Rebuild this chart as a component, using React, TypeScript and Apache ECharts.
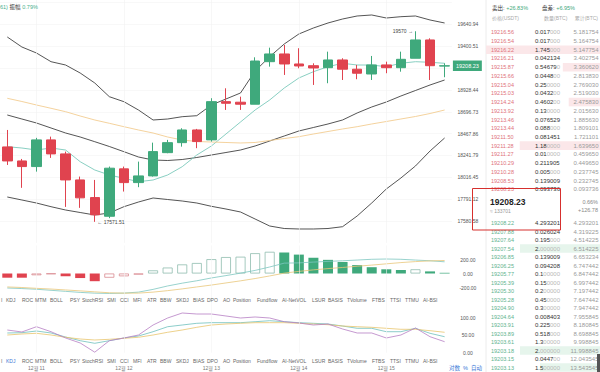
import React, { useEffect, useRef } from "react";
import * as echarts from "echarts";

// ---------- data ----------
const categories = [
  "12-10 16:00", "12-10 20:00",
  "12-11 00:00", "12-11 04:00", "12-11 08:00", "12-11 12:00", "12-11 16:00", "12-11 20:00",
  "12-12 00:00", "12-12 04:00", "12-12 08:00", "12-12 12:00", "12-12 16:00", "12-12 20:00",
  "12-13 00:00", "12-13 04:00", "12-13 08:00", "12-13 12:00", "12-13 16:00", "12-13 20:00",
  "12-14 00:00", "12-14 04:00", "12-14 08:00", "12-14 12:00", "12-14 16:00", "12-14 20:00",
  "12-15 00:00", "12-15 04:00", "12-15 08:00", "12-15 12:00", "12-15 16:00",
];
const opens = [18357, 18210, 18151, 18431, 18284, 18011, 17826, 17630, 18127, 17983, 18053, 18297, 18402, 18535, 18431, 18832, 18826, 18805, 19251, 19332, 19227, 19209, 19188, 19269, 19172, 19122, 19217, 19188, 19287, 19479, 19205];
const closes = [18210, 18151, 18431, 18284, 18011, 17823, 17645, 18134, 17983, 18053, 18308, 18402, 18535, 18413, 18832, 18815, 18805, 19258, 19332, 19227, 19206, 19185, 19269, 19172, 19130, 19217, 19188, 19276, 19479, 19209, 19208.23];
const lows = [18168, 17928, 18098, 18242, 17728, 17718, 17571.51, 17610, 17889, 17935, 18046, 18291, 18360, 18344, 18413, 18745, 18745, 18805, 19199, 19112, 19182, 19007, 19025, 19059, 19067, 19059, 19130, 19146, 19287, 19059, 19088];
const highs = [18535, 18231, 18452, 18465, 18308, 18046, 18011, 18151, 18151, 18203, 18402, 18431, 18553, 18546, 18868, 18972, 18884, 19297, 19398, 19426, 19392, 19234, 19356, 19287, 19217, 19311, 19251, 19356, 19570, 19496, 19234];

const bollUpper = [19509.9, 19405.0, 19342.1, 19250.9, 19216.2, 19132.3, 19027.5, 18883.8, 18831.4, 18744.3, 18639.5, 18649.9, 18674.1, 18684.6, 18796.8, 18859.7, 18922.6, 19153.3, 19303.3, 19436.5, 19541.3, 19604.3, 19656.7, 19698.6, 19730.1, 19740.6, 19709.1, 19722.8, 19730.1, 19688.2, 19656.7];
const bollMid = [18691.9, 18649.9, 18608.0, 18555.6, 18503.1, 18461.2, 18411.9, 18361.6, 18307.0, 18251.4, 18220.0, 18214.7, 18225.2, 18246.2, 18272.4, 18298.6, 18324.8, 18366.8, 18419.2, 18471.7, 18524.1, 18560.8, 18597.5, 18639.5, 18712.9, 18775.8, 18828.2, 18891.1, 18948.8, 19006.5, 19058.9];
const bollLower = [17832.0, 17800.5, 17769.0, 17730.2, 17695.6, 17669.4, 17643.2, 17664.2, 17730.2, 17779.5, 17821.5, 17805.7, 17790.0, 17769.0, 17734.4, 17706.1, 17674.7, 17601.2, 17527.8, 17501.6, 17496.4, 17496.4, 17501.6, 17520.5, 17632.7, 17769.0, 17915.9, 18031.2, 18157.1, 18314.4, 18450.7];
const maShort = [18359.5, 18345.8, 18324.8, 18345.8, 18324.8, 18202.2, 18115.1, 18062.7, 18028.1, 17992.4, 18010.2, 18062.7, 18149.7, 18272.4, 18366.8, 18492.6, 18618.5, 18744.3, 18849.2, 18975.0, 19079.9, 19146.0, 19198.4, 19234.1, 19216.2, 19216.2, 19198.4, 19234.1, 19250.9, 19244.6, 19234.1];
const maLong = [18867.0, 18833.5, 18796.8, 18762.2, 18726.5, 18681.4, 18639.5, 18604.9, 18569.2, 18534.6, 18503.1, 18461.2, 18429.7, 18414.0, 18408.7, 18403.5, 18398.3, 18403.5, 18424.5, 18445.4, 18464.3, 18492.6, 18518.9, 18545.1, 18569.2, 18597.5, 18623.7, 18649.9, 18676.2, 18707.6, 18744.3];

const priceTicks = ["17580.58", "17791.12", "18016.45", "18241.79", "18467.86", "18696.73", "18928.44", "", "19400.51", "19640.94"];

const macdHist = [-60, -60, -25, -8, -40, -65, -110, -60, -40, -15, 45, 85, 130, 150, 205, 235, 240, 290, 310, 300, 270, 225, 195, 165, 120, 90, 60, 50, 60, 30, 10];
const macdDif = [-207, -215, -225, -240, -255, -270, -281, -285, -280, -266, -227, -178, -138, -104, -64, -30, 5, 44, 93, 148, 152, 163, 173, 182, 192, 203, 207, 203, 192, 182, 167];
const macdDea = [-192, -200, -212, -222, -235, -248, -262, -275, -281, -280, -266, -245, -220, -192, -165, -135, -105, -72, -35, 5, 30, 52, 70, 86, 104, 120, 138, 156, 170, 180, 186];

const kdjK = [56.8, 57.6, 62.5, 56.8, 45.2, 34.6, 27.1, 34.6, 42.4, 48.1, 60.5, 74.9, 79.8, 84.7, 86.5, 86.5, 86.5, 89.3, 92.2, 89.3, 86.5, 84.7, 82.7, 76.9, 70.3, 70.3, 60.5, 60.5, 70.3, 55.9, 46.1];
const kdjD = [51.0, 53.9, 55.9, 51.0, 44.4, 39.5, 36.6, 38.6, 41.5, 44.4, 51.0, 58.8, 65.4, 73.2, 79.8, 82.7, 84.7, 86.5, 86.5, 86.5, 84.7, 82.7, 80.7, 76.9, 74.9, 73.2, 70.3, 67.4, 67.4, 63.4, 58.8];
const kdjJ = [65.4, 59.7, 74.9, 60.5, 42.4, 28.0, 1.5, 34.6, 42.4, 51.0, 79.8, 100.0, 114.4, 111.5, 111.5, 105.8, 100.0, 102.9, 100.0, 89.3, 85.6, 79.8, 82.7, 68.3, 56.8, 56.8, 42.4, 51.0, 71.2, 46.1, 31.7];

const tabNames = ["I", "KDJ", "ROC", "MTM", "BOLL", "PSY", "StochRSI", "SMI", "CCI", "MFI", "ATR", "BBW", "SKDJ", "BIAS", "DPO", "AO", "Position", "Fundflow", "AI-NetVOL", "LSUR", "BASIS", "TVolume", "FTBS", "TTSI", "TTMU", "AI-BSI"];

const askPrices = ["19216.56", "19216.54", "19216.22", "19216.21", "19215.87", "19215.66", "19215.04", "19215.03", "19214.24", "19213.92", "19213.46", "19213.44", "19211.50", "19211.28", "19211.27", "19210.29", "19210.28", "19208.53", "19208.23"];
const askQty = ["0.017000", "0.017000", "1.745000", "0.042134", "0.546790", "0.044800", "0.250000", "0.043200", "0.460200", "0.130000", "0.076529", "0.088000", "0.081451", "1.180000", "0.010000", "0.211905", "0.005000", "0.139009", "0.093736"];
const askCum = ["5.181754", "5.164754", "5.147754", "3.402754", "3.360620", "2.813830", "2.769030", "2.519030", "2.475830", "2.015630", "1.885630", "1.809101", "1.721101", "1.639650", "0.459650", "0.449650", "0.237745", "0.232745", "0.093736"];
const bidPrices = ["19208.22", "19207.88", "19207.64", "19207.54", "19206.85", "19206.25", "19205.77", "19205.39", "19205.30", "19205.28", "19204.90", "19204.64", "19203.91", "19203.89", "19203.61", "19203.18", "19203.15", "19203.13"];
const bidQty = ["4.293201", "0.026024", "0.195000", "2.000000", "0.139009", "0.094208", "0.100000", "0.150000", "0.200000", "0.450000", "0.300000", "0.008403", "0.225000", "0.518000", "1.300000", "2.000000", "0.044700", "1.500000"];
const bidCum = ["4.293201", "4.319225", "4.514225", "6.514225", "6.653234", "6.747442", "6.847442", "6.997442", "7.197442", "7.647442", "7.947442", "7.955845", "8.180845", "8.698845", "9.998845", "11.998845", "12.043545", "13.543545"];
const askBarRows = [2, 4, 8, 13];
const bidBarRows = [3, 15, 17];

// ---------- style ----------
const FONT = "'Liberation Sans', 'Noto Sans CJK SC', sans-serif";
const GREEN = "#3fa97c";
const RED = "#e0434f";
const GRID_LEFT = -6.3;
const GRID_W = 458.2;

const App = () => {
  const ref = useRef<HTMLDivElement>(null);
  useEffect(() => {
    document.body.style.margin = "0";
    const chart = echarts.init(ref.current!, null, { renderer: "svg" });

    const dayIdx = categories.map((c, i) => (c.endsWith("00:00") ? i : -1)).filter((i) => i >= 0);
    const vLines = (color: string) => ({
      silent: true,
      symbol: ["none", "none"],
      label: { show: false },
      lineStyle: { color, width: 0.6, type: "solid" },
      data: dayIdx.map((i) => ({ xAxis: i })),
    });

    const candleData = opens.map((o, i) => [o, closes[i], lows[i], highs[i]]);
    const histData = macdHist.map((v, i) => {
      const prev = i > 0 ? macdHist[i - 1] : v;
      const c = v >= 0 ? GREEN : RED;
      const hollowBorder = v >= 0 ? "#8fbcae" : "#d98a90";
      return {
        value: v,
        itemStyle: v > prev ? { color: "#ffffff", borderColor: hollowBorder, borderWidth: 0.8 } : { color: c },
      };
    });

    const line = (data: number[], color: string, idx: number, width = 0.8, extra: any = {}) => ({
      type: "line",
      data,
      xAxisIndex: idx,
      yAxisIndex: idx,
      symbol: "none",
      silent: true,
      lineStyle: { color, width },
      z: 3,
      ...extra,
    });

    const xBase = (gridIndex: number) => ({
      type: "category",
      gridIndex,
      data: categories,
      boundaryGap: true,
      axisLine: { show: false },
      axisTick: { show: false },
      axisLabel: { show: false },
      splitLine: { show: false },
    });

    const yLabel = { fontSize: 5, color: "#555", align: "center", margin: 16 };

    // ---- graphic: order book etc ----
    const g: any[] = [];
    const txt = (x: number, y: number, text: string, style: any = {}, z = 50) =>
      g.push({
        type: "text",
        x,
        y,
        z,
        silent: true,
        style: { text, fontSize: 6, fontFamily: FONT, fill: "#333", verticalAlign: "middle", align: "left", ...style },
      });
    const qtyRich = (q: string) => {
      const m = q.match(/^(.*?)(0*)$/)!;
      return `{d|${m[1]}}{l|${m[2]}}`;
    };
    const qtyStyle = { rich: { d: { fill: "#333", fontSize: 6, fontFamily: FONT }, l: { fill: "#b8b8b8", fontSize: 6, fontFamily: FONT } } };

    g.push({ type: "rect", z: 1, silent: true, shape: { x: 486, y: 0, width: 114, height: 372 }, style: { fill: "#ffffff" } });
    g.push({ type: "line", z: 2, silent: true, shape: { x1: 486, y1: 0, x2: 486, y2: 372 }, style: { stroke: "#ececec", lineWidth: 1 } });

    askBarRows.forEach((r) => {
      const w = Math.min(114, parseFloat(askQty[r]) * 68);
      g.push({ type: "rect", z: 3, silent: true, shape: { x: 600 - w, y: 32.3 + r * 8.72 - 4.3, width: w, height: 8.6 }, style: { fill: "#fbe7e9" } });
    });
    bidBarRows.forEach((r) => {
      const w = Math.min(114, parseFloat(bidQty[r]) * 40);
      g.push({ type: "rect", z: 3, silent: true, shape: { x: 600 - w, y: 223 + r * 8.5 - 4.2, width: w, height: 8.4 }, style: { fill: "#e6f5ec" } });
    });

    txt(492, 8, "{k|卖出:} {g|+26.83%}", { rich: { k: { fill: "#333", fontSize: 5.5, fontFamily: FONT }, g: { fill: GREEN, fontSize: 5.5, fontFamily: FONT } } });
    txt(542, 8, "{k|盘差:} {g|+6.95%}", { rich: { k: { fill: "#333", fontSize: 5.5, fontFamily: FONT }, g: { fill: GREEN, fontSize: 5.5, fontFamily: FONT } } });
    txt(492, 17.5, "价格(USDT)", { fill: "#aaaaaa", fontSize: 5 });
    txt(544, 17.5, "数量(BTC)", { fill: "#aaaaaa", fontSize: 5 });
    txt(598, 17.5, "累计(BTC)", { fill: "#aaaaaa", fontSize: 5, align: "right" });

    askPrices.forEach((p, i) => {
      const y = 32.3 + i * 8.72;
      txt(491, y, p, { fill: "#e0727b", fontSize: 5.5 });
      txt(535, y, qtyRich(askQty[i]), qtyStyle);
      txt(598.5, y, askCum[i], { fill: "#9a9a9a", fontSize: 6, align: "right" });
    });
    // mid section
    g.push({ type: "rect", z: 40, silent: true, shape: { x: 487, y: 193.5, width: 113, height: 26 }, style: { fill: "#ffffff" } });
    txt(490, 201.5, String(closes[closes.length - 1].toFixed(2)), { fontSize: 8.5, fontWeight: "bold", fill: "#1e1e1e" }, 60);
    txt(490, 210.5, "≈ 133701", { fontSize: 5, fill: "#999999" }, 60);
    txt(598, 201.5, "0.66%", { fontSize: 5.5, fill: "#888888", align: "right" }, 60);
    txt(598, 210, "+126.78", { fontSize: 5.5, fill: "#888888", align: "right" }, 60);

    bidPrices.forEach((p, i) => {
      const y = 223 + i * 8.5;
      txt(491, y, p, { fill: "#5eb38e", fontSize: 5.5 });
      txt(535, y, qtyRich(bidQty[i]), qtyStyle);
      txt(598.5, y, bidCum[i], { fill: "#9a9a9a", fontSize: 6, align: "right" });
    });

    // red annotation box
    g.push({ type: "rect", z: 90, silent: true, shape: { x: 472.5, y: 188.5, width: 88, height: 41.5 }, style: { fill: "none", stroke: "#d6302e", lineWidth: 1 } });
    // scrollbar
    g.push({ type: "rect", z: 90, silent: true, shape: { x: 597, y: 354, width: 3, height: 18 }, style: { fill: "#555555" } });

    // top-left info
    txt(0, 7, "{g|61)} {k|振幅} {g|0.79%}", { rich: { k: { fill: "#333", fontSize: 5.5, fontFamily: FONT }, g: { fill: "#49b08c", fontSize: 5.5, fontFamily: FONT } } });

    // indicator tab rows
    const tabX = [1, 6, 22, 35, 50, 70, 82, 107, 120, 133, 147, 160, 176, 193, 207, 223, 233, 257, 282, 312, 328, 347, 372, 390, 405, 423];
    [300, 361].forEach((ty, row) => {
      tabNames.forEach((t, i) => {
        const active = row === 1 && t === "KDJ";
        txt(tabX[i], ty, t, { fontSize: 5, fill: active ? "#3a78d6" : "#666666" }, 20);
      });
    });
    txt(449, 367.5, "对数  %  自动", { fontSize: 5.5, fill: "#3a78d6" }, 20);

    const option: any = {
      animation: false,
      backgroundColor: "#ffffff",
      textStyle: { fontFamily: FONT },
      grid: [
        { left: GRID_LEFT, top: 0, width: GRID_W, height: 242.8 },
        { left: GRID_LEFT, top: 245.5, width: GRID_W, height: 56 },
        { left: GRID_LEFT, top: 300.65, width: GRID_W, height: 52.05 },
      ],
      xAxis: [
        xBase(0),
        xBase(1),
        {
          ...xBase(2),
          axisLabel: {
            show: true,
            fontSize: 5,
            color: "#777",
            margin: 12.5,
            interval: (i: number, v: string) => v.endsWith("00:00"),
            formatter: (v: string) => `${parseInt(v.slice(0, 2), 10)}월 ${v.slice(3, 5)}`,
          },
        },
      ],
      yAxis: [
        {
          type: "value",
          gridIndex: 0,
          position: "right",
          min: 17351.65,
          max: 19897.87,
          interval: 228.93,
          axisLine: { show: false },
          axisTick: { show: false },
          splitLine: { show: true, showMinLine: false, showMaxLine: false, lineStyle: { color: "#f4f4f4", width: 0.6 } },
          axisLabel: { ...yLabel, showMinLabel: false, showMaxLabel: false, formatter: (_v: number, i: number) => priceTicks[i - 1] ?? "" },
        },
        {
          type: "value",
          gridIndex: 1,
          position: "right",
          min: -400,
          max: 400,
          interval: 200,
          axisLine: { show: false },
          axisTick: { show: false },
          splitLine: { show: false },
          axisLabel: { ...yLabel, formatter: (v: number) => (Math.abs(v) >= 400 ? "" : v.toFixed(2)) },
        },
        {
          type: "value",
          gridIndex: 2,
          position: "right",
          min: 0,
          max: 150,
          interval: 50,
          axisLine: { show: false },
          axisTick: { show: false },
          splitLine: { show: false },
          axisLabel: { ...yLabel, formatter: (v: number) => (v >= 150 ? "" : v.toFixed(2)) },
        },
      ],
      series: [
        {
          type: "candlestick",
          xAxisIndex: 0,
          yAxisIndex: 0,
          data: candleData,
          barWidth: 10,
          z: 5,
          itemStyle: { color: GREEN, color0: RED, borderColor: GREEN, borderColor0: RED, borderWidth: 1 },
          markPoint: {
            symbol: "circle",
            symbolSize: 1,
            silent: true,
            itemStyle: { color: "rgba(0,0,0,0)" },
            label: { show: true, fontSize: 5, color: "#444", distance: 2 },
            data: [
              { coord: [28, highs[28]], value: highs[28], label: { position: "left", formatter: "{c} →" } },
              { coord: [6, lows[6]], value: lows[6], label: { position: "right", formatter: "← {c}" } },
            ],
          },
          markLine: {
            silent: true,
            symbol: ["none", "none"],
            lineStyle: { color: "rgba(0,0,0,0)", width: 0 },
            label: {
              position: "end",
              distance: 1,
              color: "#ffffff",
              backgroundColor: GREEN,
              padding: [3, 3, 2, 3],
              fontSize: 5.5,
              formatter: (p: any) => Number(p.value).toFixed(2),
            },
            data: [{ yAxis: closes[closes.length - 1] }],
          },
        },
        line(bollUpper, "#2a2a2a", 0, 0.8, { markLine: vLines("#f2f2f2") }),
        line(bollMid, "#2a2a2a", 0, 0.8),
        line(bollLower, "#2a2a2a", 0, 0.8),
        line(maShort, "#7ccabb", 0, 0.9),
        line(maLong, "#f3cd92", 0, 0.9),
        {
          type: "bar",
          xAxisIndex: 1,
          yAxisIndex: 1,
          data: histData,
          barWidth: 10,
          silent: true,
          markLine: vLines("#f4f4f4"),
        },
        line(macdDif, "#7ec6c0", 1, 0.8),
        line(macdDea, "#e9c77a", 1, 0.8),
        line(kdjK, "#6fc0bc", 2, 0.8, { markLine: vLines("#f4f4f4") }),
        line(kdjD, "#e8c56d", 2, 0.8),
        line(kdjJ, "#b67fc4", 2, 0.8),
      ],
      graphic: { elements: g },
    };
    chart.setOption(option);
    return () => chart.dispose();
  }, []);
  return <div ref={ref} style={{ width: 600, height: 372 }} />;
};

export default App;
